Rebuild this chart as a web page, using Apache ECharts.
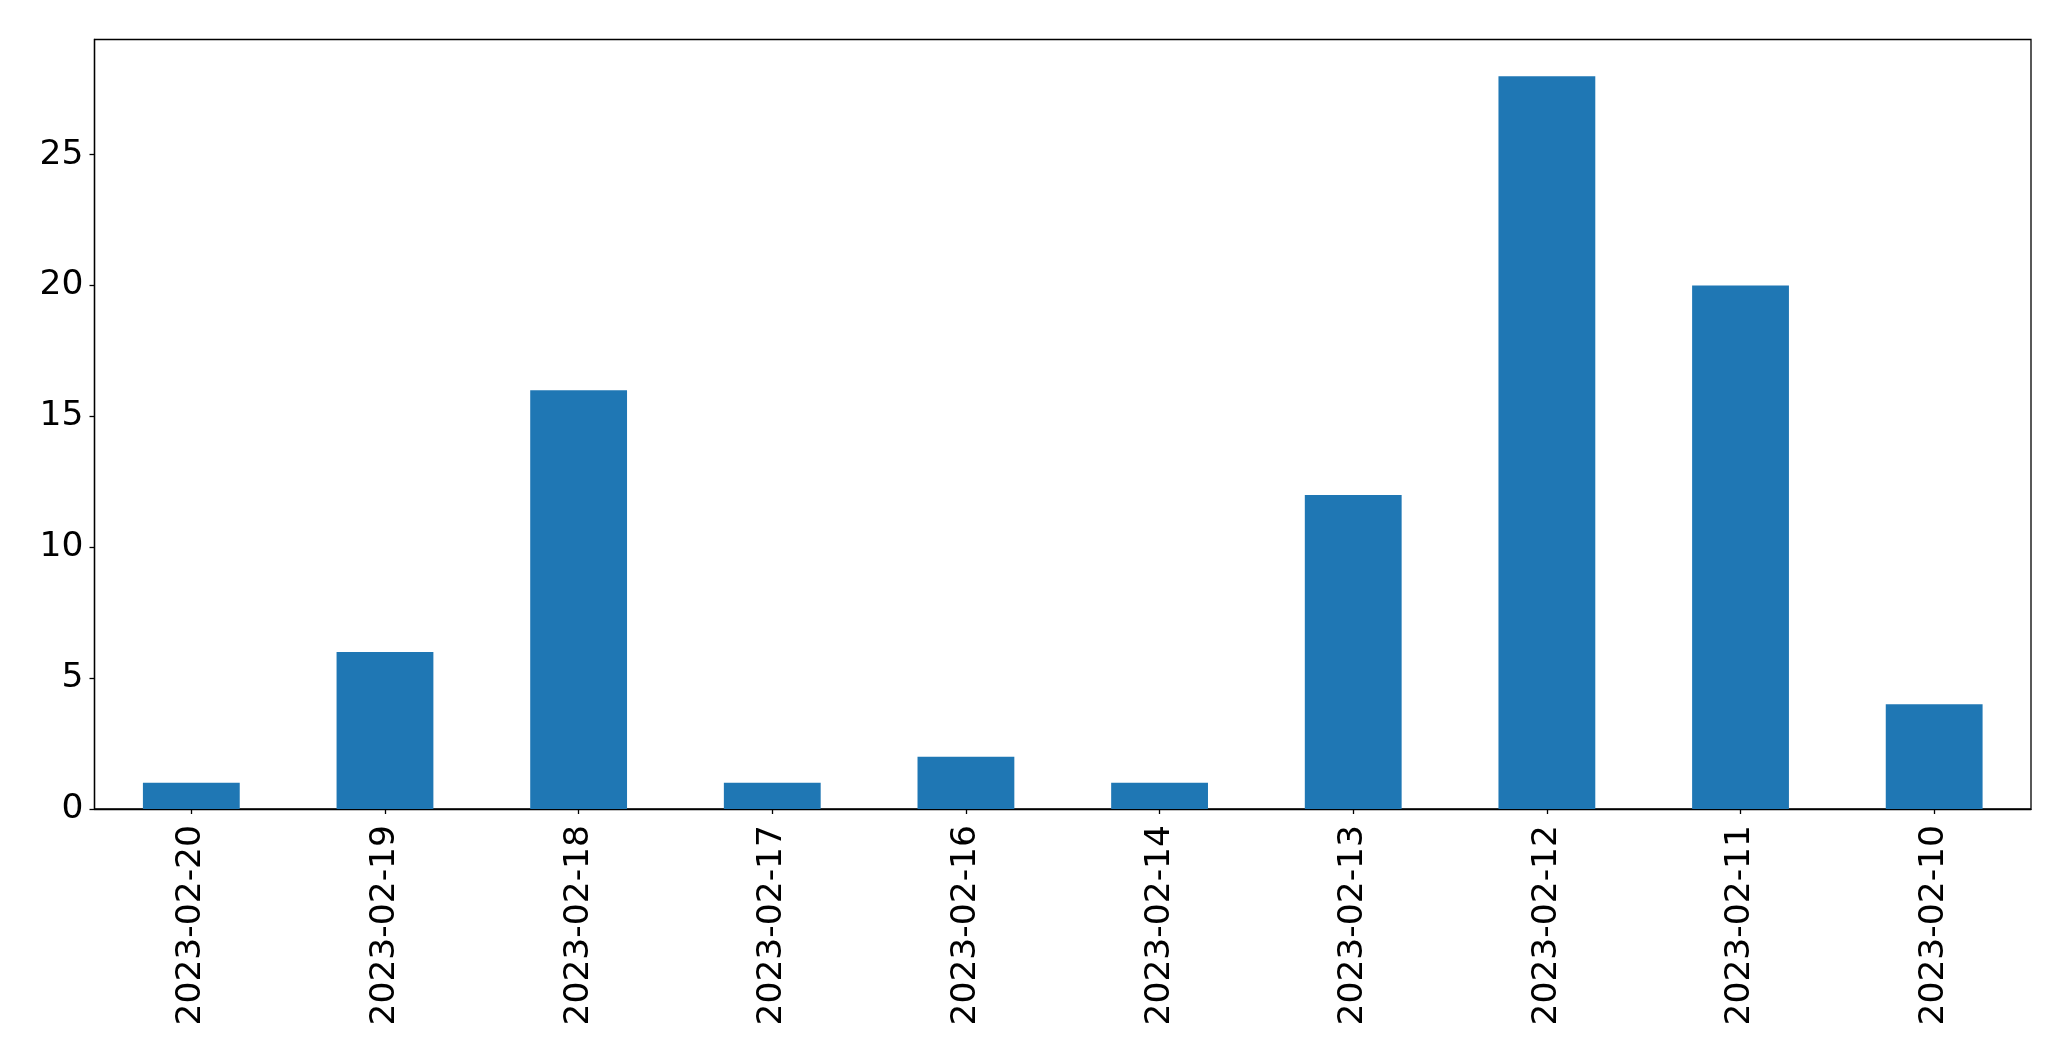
<!DOCTYPE html>
<html>
<head>
<meta charset="utf-8">
<script src="https://cdn.jsdelivr.net/npm/echarts@6/dist/echarts.min.js"></script>
<style>
html,body{margin:0;padding:0;background:#fff;}
#chart{width:2071px;height:1061px;}
</style>
</head>
<body>
<div id="chart"></div>
<script>
const categories = ['2023-02-20','2023-02-19','2023-02-18','2023-02-17','2023-02-16','2023-02-14','2023-02-13','2023-02-12','2023-02-11','2023-02-10'];
const values = [1, 6, 16, 1, 2, 1, 12, 28, 20, 4];
const yMax = 29.4;
const yInterval = 5;

const chart = echarts.init(document.getElementById('chart'), null, {renderer: 'canvas'});
const font = 'DejaVu Sans';
chart.setOption({
  animation: false,
  backgroundColor: '#ffffff',
  grid: {
    left: 94.5, top: 39.5, right: 40, bottom: 252,
    show: true, borderColor: '#000', borderWidth: 1.3, backgroundColor: 'transparent',
    containLabel: false
  },
  xAxis: {
    type: 'category',
    data: categories,
    boundaryGap: true,
    axisLine: {show: true, lineStyle: {color: '#000', width: 1.3}},
    axisTick: {show: true, alignWithLabel: true, length: 5, lineStyle: {color: '#000', width: 1.3}},
    axisLabel: {rotate: 90, margin: 16, color: '#000', fontFamily: font, fontSize: 34.5, interval: 0},
    splitLine: {show: false}
  },
  yAxis: {
    type: 'value',
    min: 0, max: yMax, interval: yInterval,
    axisLine: {show: true, lineStyle: {color: '#000', width: 1.3}},
    axisTick: {show: true, length: 5, lineStyle: {color: '#000', width: 1.3}},
    axisLabel: {margin: 11, color: '#000', fontFamily: font, fontSize: 34.5, showMaxLabel: false},
    splitLine: {show: false}
  },
  series: [{
    type: 'bar',
    data: values,
    barWidth: '50%',
    itemStyle: {color: '#1f77b4'}
  }]
});
</script>
</body>
</html>
